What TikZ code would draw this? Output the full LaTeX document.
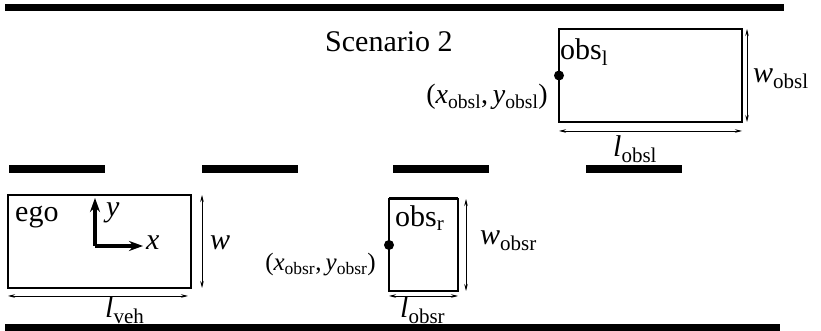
\documentclass[tikz,border=0pt]{standalone}
\usepackage{fontspec}
\setmainfont{Liberation Serif}
\usetikzlibrary{arrows.meta,positioning}
\tikzstyle{road} = [line width=7pt]
\tikzstyle{lane} = [line width=8pt]
\tikzstyle{vehbox} = [rectangle, draw, line width=2pt, inner sep=0pt, outer sep=0pt]
\tikzstyle{dimline} = [draw, {Stealth[length=7pt,width=3.5pt]}-{Stealth[length=7pt,width=3.5pt]}, line width=0.7pt]
\tikzstyle{axis} = [draw, -{Stealth[length=14pt,width=10pt]}, line width=4pt]
\tikzstyle{refdot} = [circle, fill, inner sep=0pt, minimum size=10pt]
\tikzstyle{txt} = [inner sep=0pt, anchor=base west]
\tikzstyle{coordlbl} = [inner sep=0pt, anchor=east, font=\fontsize{25}{30}\selectfont]
\newcommand{\symsub}[2]{\textit{#1}\textsubscript{#2}}

\begin{document}
\begin{tikzpicture}[x=1pt, y=1pt, font=\fontsize{30}{36}\selectfont]
    \useasboundingbox (0,0) rectangle (821,331);
    % Road borders and lane markings
    \draw[road] (5,323.5) -- (784,323.5);
    \draw[road] (5,3.5) -- (780,3.5);
    \foreach \x in {9,202,393,586}
        \draw[lane] (\x,162) -- ++(96,0);

    % Place vehicles
    \node [vehbox, minimum width=183pt, minimum height=93pt] (ego) at (99.5,89.5) {};
    \node [vehbox, minimum width=69pt, minimum height=92pt] (obsr) at (423.5,86) {};
    \node [vehbox, minimum width=183pt, minimum height=93pt] (obsl) at (650.5,255.5) {};
    \draw [line width=3pt] (obsr.north west) -- (obsr.north east);
    \node [refdot] (dotr) at (obsr.west) {};
    \node [refdot] (dotl) at (obsl.west) {};

    % Labels
    \node [txt] at (325,279) {Scenario 2};
    \node [txt] (egolbl) at (15,109) {ego};
    \node [txt] (obsrlbl) at (395,104) {obs\textsubscript{r}};
    \node [txt] (obsllbl) at (560,271) {obs\textsubscript{l}};
    \node [coordlbl] (posr) at (376,66) {(\symsub{x}{obsr},\,\symsub{y}{obsr})};
    \node [coordlbl, font=\fontsize{28}{34}\selectfont] (posl) at (548,234) {(\symsub{x}{obsl},\,\symsub{y}{obsl})};

    % Body frame of ego
    \coordinate (org) at (97,85);
    \coordinate (xend) at (143,85);
    \coordinate (yend) at (97,133);
    \draw [axis] ([xshift=-2pt]org) -- (xend);
    \draw [axis] ([xshift=-2pt]org) -- ([xshift=-2pt]yend);
    \node [txt] at (146,81) {\textit{x}};
    \node [txt] at (106,114) {\textit{y}};

    % Dimensions
    \draw [dimline] ([xshift=11pt]ego.south east) -- ([xshift=11pt]ego.north east);
    \draw [dimline] ([yshift=-8pt]ego.south west) -- ([yshift=-8pt,xshift=-3pt]ego.south east);
    \node [txt] at (210,81) {\textit{w}};
    \node [txt] at (105,13) {\symsub{l}{veh}};

    \draw [dimline] ([xshift=8pt]obsr.south east) -- ([xshift=8pt]obsr.north east);
    \draw [dimline] ([yshift=-5pt]obsr.south west) -- ([yshift=-5pt]obsr.south east);
    \node [txt] at (480,86) {\symsub{w}{obsr}};
    \node [txt] at (400,13) {\symsub{l}{obsr}};

    \draw [dimline] ([xshift=5pt]obsl.south east) -- ([xshift=5pt]obsl.north east);
    \draw [dimline] ([yshift=-9pt]obsl.south west) -- ([yshift=-9pt]obsl.south east);
    \node [txt] at (753,248) {\symsub{w}{obsl}};
    \node [txt] at (613,174) {\symsub{l}{obsl}};
\end{tikzpicture}
\end{document}
